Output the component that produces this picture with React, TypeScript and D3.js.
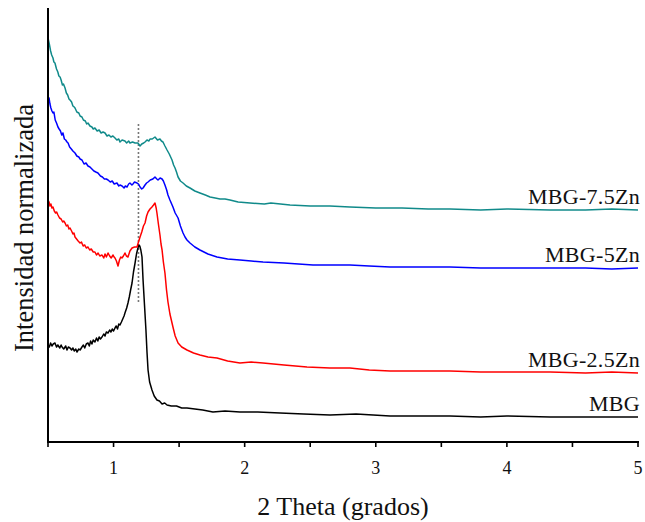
import React from "react";
import * as d3 from "d3";

// 2θ (grados) vs intensidad normalizada (u.a.)
const seriesNames = ["MBG", "MBG-2.5Zn", "MBG-5Zn", "MBG-7.5Zn"];
const seriesColors = ["#000000", "#ff0000", "#0000ff", "#108a8a"];

const mbg: [number, number][] = [
  [0.500,97],[0.510,95],[0.520,99],[0.530,96],[0.540,98],[0.553,99],[0.565,95],[0.575,97],[0.590,94],[0.600,97],[0.607,95],[0.620,93],[0.635,96],[0.645,92],[0.655,95],[0.668,94],[0.680,92],[0.690,94],[0.700,91],[0.712,93],[0.721,90],[0.735,93],[0.745,92],[0.759,95],[0.770,97],[0.780,94],[0.792,98],[0.805,99],[0.815,96],[0.825,101],[0.835,98],[0.845,102],[0.858,100],[0.870,104],[0.880,101],[0.890,105],[0.900,103],[0.912,105],[0.925,108],[0.935,106],[0.945,110],[0.958,109],[0.970,112],[0.980,110],[0.990,113],[1.000,111],[1.011,114],[1.020,116],[1.030,113],[1.040,118],[1.049,117],[1.060,120],[1.070,123],[1.080,126],[1.087,129],[1.100,134],[1.110,139],[1.120,145],[1.130,152],[1.141,159],[1.152,170],[1.164,179],[1.175,188],[1.186,194],[1.193,197],[1.200,196],[1.208,192],[1.217,185],[1.225,162],[1.236,137],[1.247,112],[1.255,90],[1.263,72],[1.275,60],[1.293,52],[1.310,46],[1.331,42],[1.350,41],[1.370,38],[1.390,39],[1.408,37],[1.440,36],[1.480,36],[1.520,34],[1.560,34],[1.620,33],[1.680,32],[1.758,30],[1.850,31],[1.964,30],[2.100,30],[2.270,29],[2.450,28],[2.651,27],[2.850,28],[3.109,26],[3.350,26],[3.566,26],[3.800,25],[4.000,26],[4.329,25],[4.600,25],[4.800,25],[5.000,25]
];

const mbg25: [number, number][] = [
  [0.500,242],[0.508,240],[0.515,236],[0.522,238],[0.530,234],[0.538,235],[0.548,231],[0.558,229],[0.566,230],[0.576,227],[0.588,224],[0.600,223],[0.612,220],[0.620,221],[0.630,219],[0.640,216],[0.650,217],[0.660,213],[0.668,214],[0.680,211],[0.690,208],[0.698,209],[0.706,205],[0.718,203],[0.730,201],[0.744,199],[0.755,200],[0.768,196],[0.780,197],[0.792,194],[0.805,195],[0.818,192],[0.830,193],[0.845,190],[0.858,190],[0.870,187],[0.882,189],[0.895,186],[0.912,187],[0.925,184],[0.935,188],[0.945,185],[0.958,189],[0.970,186],[0.982,184],[0.996,187],[1.004,185],[1.011,184],[1.022,181],[1.034,176],[1.045,182],[1.055,185],[1.064,184],[1.075,186],[1.087,189],[1.098,186],[1.110,185],[1.125,191],[1.141,194],[1.160,195],[1.179,195],[1.190,200],[1.202,205],[1.215,210],[1.228,216],[1.240,219],[1.252,226],[1.263,230],[1.278,233],[1.293,235],[1.305,237],[1.316,239],[1.325,234],[1.331,229],[1.342,218],[1.354,207],[1.362,198],[1.370,192],[1.380,180],[1.392,169],[1.404,152],[1.415,140],[1.430,128],[1.453,115],[1.470,106],[1.492,99],[1.520,95],[1.560,92],[1.610,89],[1.659,87],[1.720,85],[1.789,84],[1.870,81],[1.964,79],[2.050,80],[2.140,79],[2.300,77],[2.475,75],[2.650,74],[2.803,74],[2.950,72],[3.109,71],[3.300,71],[3.566,71],[3.800,70],[4.000,70],[4.329,70],[4.600,69],[4.800,70],[5.000,69]
];

const mbg5: [number, number][] = [
  [0.500,345],[0.508,344],[0.515,338],[0.522,334],[0.530,331],[0.538,329],[0.545,330],[0.555,322],[0.565,319],[0.576,315],[0.585,313],[0.595,311],[0.605,307],[0.614,309],[0.625,303],[0.635,302],[0.645,300],[0.653,299],[0.665,295],[0.678,293],[0.690,291],[0.706,289],[0.720,286],[0.735,285],[0.745,283],[0.759,282],[0.775,278],[0.790,279],[0.805,276],[0.820,275],[0.835,273],[0.850,271],[0.865,270],[0.881,269],[0.900,266],[0.915,265],[0.930,263],[0.945,263],[0.958,262],[0.975,260],[0.990,261],[1.005,258],[1.026,259],[1.040,256],[1.049,257],[1.065,256],[1.080,254],[1.090,256],[1.103,255],[1.115,258],[1.125,259],[1.140,257],[1.148,258],[1.160,260],[1.179,259],[1.190,258],[1.202,255],[1.215,253],[1.225,254],[1.240,257],[1.252,259],[1.263,260],[1.280,262],[1.300,263],[1.316,265],[1.330,263],[1.339,262],[1.355,264],[1.370,263],[1.380,261],[1.392,257],[1.405,252],[1.415,247],[1.430,242],[1.453,235],[1.470,229],[1.492,224],[1.510,216],[1.530,209],[1.545,205],[1.560,202],[1.583,199],[1.620,195],[1.659,192],[1.720,188],[1.789,185],[1.870,183],[1.964,182],[2.050,181],[2.140,180],[2.300,179],[2.521,177],[2.650,177],[2.803,177],[2.950,176],[3.109,175],[3.300,175],[3.566,175],[3.800,174],[4.000,174],[4.329,174],[4.600,174],[4.800,173],[5.000,174]
];

const mbg75: [number, number][] = [
  [0.500,404],[0.510,398],[0.520,391],[0.528,387],[0.538,384],[0.545,380],[0.553,379],[0.565,373],[0.575,370],[0.583,366],[0.592,365],[0.600,362],[0.610,357],[0.618,358],[0.630,354],[0.640,349],[0.650,347],[0.660,343],[0.668,342],[0.680,340],[0.690,336],[0.700,335],[0.706,334],[0.720,330],[0.735,329],[0.745,326],[0.759,325],[0.770,322],[0.785,321],[0.795,318],[0.805,319],[0.820,316],[0.835,315],[0.845,313],[0.858,314],[0.875,311],[0.890,312],[0.905,309],[0.920,310],[0.935,309],[0.950,306],[0.965,307],[0.980,305],[0.995,306],[1.011,304],[1.025,302],[1.040,303],[1.049,300],[1.065,302],[1.087,301],[1.100,299],[1.115,301],[1.125,299],[1.145,300],[1.164,299],[1.186,299],[1.202,296],[1.215,298],[1.230,299],[1.240,300],[1.255,302],[1.270,301],[1.278,303],[1.295,303],[1.316,305],[1.335,302],[1.354,303],[1.365,301],[1.377,300],[1.392,296],[1.408,292],[1.425,288],[1.446,282],[1.458,277],[1.469,274],[1.480,270],[1.492,265],[1.510,261],[1.530,259],[1.555,256],[1.583,254],[1.620,251],[1.659,249],[1.700,247],[1.736,245],[1.775,244],[1.812,243],[1.850,243],[1.888,242],[1.950,240],[2.041,239],[2.150,238],[2.200,239],[2.346,237],[2.500,236],[2.650,236],[2.803,235],[3.000,234],[3.200,234],[3.400,233],[3.566,233],[3.800,232],[4.000,233],[4.329,232],[4.600,232],[4.800,233],[5.000,232]
];

const seriesData = [mbg, mbg25, mbg5, mbg75];

const xTicks = [1, 2, 3, 4, 5];
const xMinorTicks = [0.5, 1.5, 2.5, 3.5, 4.5];
const xDomain: [number, number] = [0.5, 5];
const yDomain: [number, number] = [0, 434];

// dashed reference line at the MBG peak
const refLineX = 1.19;
const refLineY: [number, number] = [139, 318];

const xLabel = "2 Theta (grados)";
const yLabel = "Intensidad normalizada";

export default function App() {
  const W = 645, H = 522;
  const left = 48, right = 638, top = 8, bottom = 442;
  const x = d3.scaleLinear().domain(xDomain).range([left, right]);
  const y = d3.scaleLinear().domain(yDomain).range([bottom, top]);
  const line = d3.line<[number, number]>().x(d => x(d[0])).y(d => y(d[1]));
  const font = "'Liberation Serif', 'Times New Roman', serif";

  return (
    <svg width={W} height={H} style={{ position: "absolute", left: 0, top: 0, background: "#fff" }} fontFamily={font}>
      <rect x={0} y={0} width={W} height={H} fill="#fff" />
      {/* reference dashed line */}
      <line x1={x(refLineX)} x2={x(refLineX)} y1={y(refLineY[1])} y2={y(refLineY[0])}
        stroke="#777" strokeWidth={1.6} strokeDasharray="2,2" />
      {seriesData.map((s, i) => (
        <path key={seriesNames[i]} d={line(s) || ""} fill="none" stroke={seriesColors[i]} strokeWidth={1.5} strokeLinejoin="round" />
      ))}
      {seriesData.map((s, i) => (
        <text key={"l" + i} x={right + 2} y={y(s[s.length - 1][1]) - 6} textAnchor="end" fontSize={22} letterSpacing={0.3} fill="#111">
          {seriesNames[i]}
        </text>
      ))}
      {/* axes */}
      <line x1={left} x2={left} y1={top} y2={bottom + 1} stroke="#000" strokeWidth={2} />
      <line x1={left - 1} x2={right + 1} y1={bottom} y2={bottom} stroke="#000" strokeWidth={2} />
      {xTicks.concat(xMinorTicks).map(t => (
        <line key={"t" + t} x1={x(t)} x2={x(t)} y1={bottom} y2={bottom + 5} stroke="#000" strokeWidth={1.6} />
      ))}
      {xTicks.map(t => (
        <text key={"tl" + t} x={x(t)} y={474} textAnchor="middle" fontSize={18} fill="#111">{t}</text>
      ))}
      <text x={343} y={515} textAnchor="middle" fontSize={26} fill="#111">{xLabel}</text>
      <text transform={`translate(33, 228) rotate(-90)`} textAnchor="middle" fontSize={26.5} fill="#111">{yLabel}</text>
    </svg>
  );
}
